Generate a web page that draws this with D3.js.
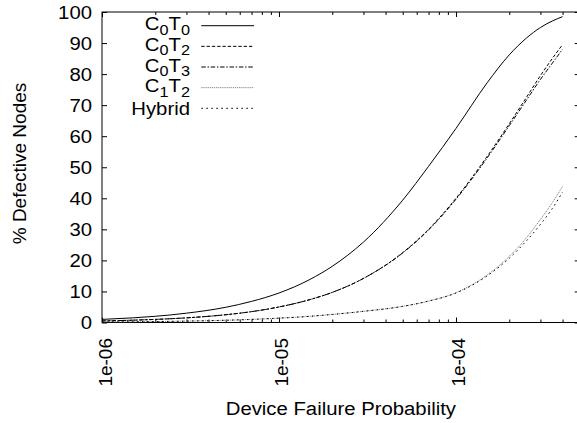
<!DOCTYPE html>
<html>
<head>
<meta charset="utf-8">
<script src="https://cdn.jsdelivr.net/npm/d3@7"></script>
<style>
  html, body { margin: 0; padding: 0; background: #fff; }
  svg text { font-family: "Liberation Sans", Arial, Helvetica, sans-serif; fill: #000; }
</style>
</head>
<body>
<svg id="chart" width="577" height="423"></svg>
<script>
// ---- data ----
const probabilities = [1e-6, 1.5e-6, 2e-6, 3e-6, 5e-6, 7e-6, 1e-5, 1.5e-5, 2e-5, 3e-5, 5e-5, 7e-5, 1e-4, 1.5e-4, 2e-4, 2.5e-4, 3e-4, 3.5e-4, 4e-4];
const c0t0   = [1.0, 1.5, 2.0, 3.0, 4.9, 6.8, 9.5, 13.9, 18.1, 25.9, 39.4, 50.3, 62.5, 77.2, 86.2, 91.6, 95.0, 97.1, 98.5];
const c0t2   = [0.5, 0.75, 1.0, 1.5, 2.5, 3.5, 5.0, 7.4, 9.7, 14.2, 22.5, 30.0, 40.0, 53.5, 64.0, 72.5, 79.5, 85.0, 89.5];
const c0t3   = [0.5, 0.75, 1.0, 1.5, 2.5, 3.5, 5.0, 7.4, 9.7, 14.2, 22.4, 29.8, 39.7, 53.0, 63.4, 71.6, 78.3, 83.5, 88.0];
const c1t2   = [0.15, 0.22, 0.3, 0.45, 0.72, 1.0, 1.4, 2.0, 2.6, 3.6, 5.2, 6.9, 9.6, 15.3, 21.3, 27.3, 33.2, 38.6, 43.8];
const hybrid = [0.15, 0.22, 0.3, 0.45, 0.72, 1.0, 1.4, 2.0, 2.6, 3.6, 5.2, 6.9, 9.5, 15.0, 20.7, 26.3, 31.6, 36.7, 42.0];

const seriesNames = ["C0T0", "C0T2", "C0T3", "C1T2", "Hybrid"];
const seriesLabels = [["C","0","T","0"], ["C","0","T","2"], ["C","0","T","3"], ["C","1","T","2"], ["Hybrid"]];
const seriesValues = [c0t0, c0t2, c0t3, c1t2, hybrid];

const xTickValues = [1e-6, 1e-5, 1e-4];
const xTickLabels = ["1e-06", "1e-05", "1e-04"];
const yTickValues = [0, 10, 20, 30, 40, 50, 60, 70, 80, 90, 100];

// ---- styles ----
const styles = [
  { stroke: "#000", dash: null, width: 1 },
  { stroke: "#000", dash: "3.3,2", width: 1 },
  { stroke: "#000", dash: "4.5,1.7,1.5,1.7", width: 1 },
  { stroke: "#808080", dash: "1.2,0.9", width: 1 },
  { stroke: "#000", dash: "1.6,3.4", width: 1 }
];

const svg = d3.select("#chart");
const pLeft = 102, pRight = 579.7, pTop = 12, pBottom = 322.5;
const FS = 19, SX = 1.07;

const x = d3.scaleLog().domain([1e-6, 5e-4]).range([pLeft, pRight]);
const y = d3.scaleLinear().domain([0, 100]).range([pBottom, pTop]);

// clip
svg.append("defs").append("clipPath").attr("id", "plotclip")
  .append("rect").attr("x", pLeft).attr("y", pTop).attr("width", pRight - pLeft).attr("height", pBottom - pTop);

// y ticks (left and mirrored right)
const yAxisL = d3.axisLeft(y).tickValues(yTickValues).tickSize(-5).tickFormat("");
const yAxisR = d3.axisRight(y).tickValues(yTickValues).tickSize(-5).tickFormat("");
svg.append("g").attr("transform", `translate(${pLeft},0)`).call(yAxisL).call(g => g.select(".domain").remove());
svg.append("g").attr("transform", `translate(${pRight},0)`).call(yAxisR).call(g => g.select(".domain").remove());

// x ticks: major and minor
const minorTicks = [];
for (let d = 1e-6; d < 1e-3; d *= 10) {
  for (let m = 2; m <= 9; m++) {
    const v = +(m * d).toPrecision(3);
    if (v <= 5e-4) minorTicks.push(v);
  }
}
const xAxisB = d3.axisBottom(x).tickValues(xTickValues).tickSize(-5).tickFormat("");
const xAxisT = d3.axisTop(x).tickValues(xTickValues).tickSize(-5).tickFormat("");
const xAxisBm = d3.axisBottom(x).tickValues(minorTicks).tickSize(-3).tickFormat("");
const xAxisTm = d3.axisTop(x).tickValues(minorTicks).tickSize(-3).tickFormat("");
[[xAxisB, pBottom], [xAxisBm, pBottom], [xAxisT, pTop], [xAxisTm, pTop]].forEach(([ax, yy]) => {
  svg.append("g").attr("transform", `translate(0,${yy})`).call(ax).call(g => g.select(".domain").remove());
});
svg.selectAll(".tick line").attr("stroke", "#000").attr("stroke-width", 1);

// border
svg.append("rect").attr("x", pLeft).attr("y", pTop).attr("width", pRight - pLeft).attr("height", pBottom - pTop)
  .attr("fill", "none").attr("stroke", "#000").attr("stroke-width", 1);

// y tick labels
svg.append("g").selectAll("text").data(yTickValues).join("text")
  .attr("transform", d => `translate(92,${y(d)}) scale(${SX},1)`)
  .attr("dy", "0.35em").attr("text-anchor", "end").attr("font-size", FS)
  .text(d => d);

// x tick labels (rotated)
svg.append("g").selectAll("text").data(xTickValues).join("text")
  .attr("transform", d => `translate(${x(d) + 9.5},338) rotate(-90)`)
  .attr("text-anchor", "end").attr("font-size", FS)
  .text((d, i) => xTickLabels[i]);

// axis titles
svg.append("text").attr("transform", `translate(${(pLeft + pRight) / 2},415) scale(${SX},1)`)
  .attr("text-anchor", "middle").attr("font-size", FS).text("Device Failure Probability");
svg.append("text").attr("transform", `translate(25.5,163.5) rotate(-90)`)
  .attr("text-anchor", "middle").attr("font-size", FS).text("% Defective Nodes");

// curves
const line = d3.line().x(d => x(d[0])).y(d => y(d[1])).curve(d3.curveMonotoneX);
const plot = svg.append("g").attr("clip-path", "url(#plotclip)");
seriesValues.forEach((vals, i) => {
  const pts = probabilities.map((p, j) => [p, vals[j]]);
  plot.append("path").datum(pts).attr("d", line)
    .attr("fill", "none").attr("stroke", styles[i].stroke)
    .attr("stroke-width", styles[i].width)
    .attr("stroke-dasharray", styles[i].dash);
});

// legend
const legY0 = 25.7, legStep = 20.65;
seriesNames.forEach((name, i) => {
  const ly = legY0 + i * legStep;
  const parts = seriesLabels[i];
  const base = parts.length > 1 ? ly + 4.5 : ly + 7;
  const t = svg.append("text")
    .attr("transform", `translate(190,${base}) scale(${SX},1)`)
    .attr("text-anchor", "end").attr("font-size", FS);
  if (parts.length > 1) {
    parts.forEach((p, k) => {
      const sub = k % 2 === 1;
      t.append("tspan").attr("font-size", sub ? FS * 0.8 : FS)
        .attr("dy", sub ? 4.5 : (k === 0 ? 0 : -4.5)).text(p);
    });
  } else {
    t.text(parts[0]);
  }
  svg.append("line").attr("x1", 201.3).attr("x2", 254).attr("y1", ly).attr("y2", ly)
    .attr("stroke", styles[i].stroke).attr("stroke-width", styles[i].width)
    .attr("stroke-dasharray", styles[i].dash);
});
</script>
</body>
</html>
